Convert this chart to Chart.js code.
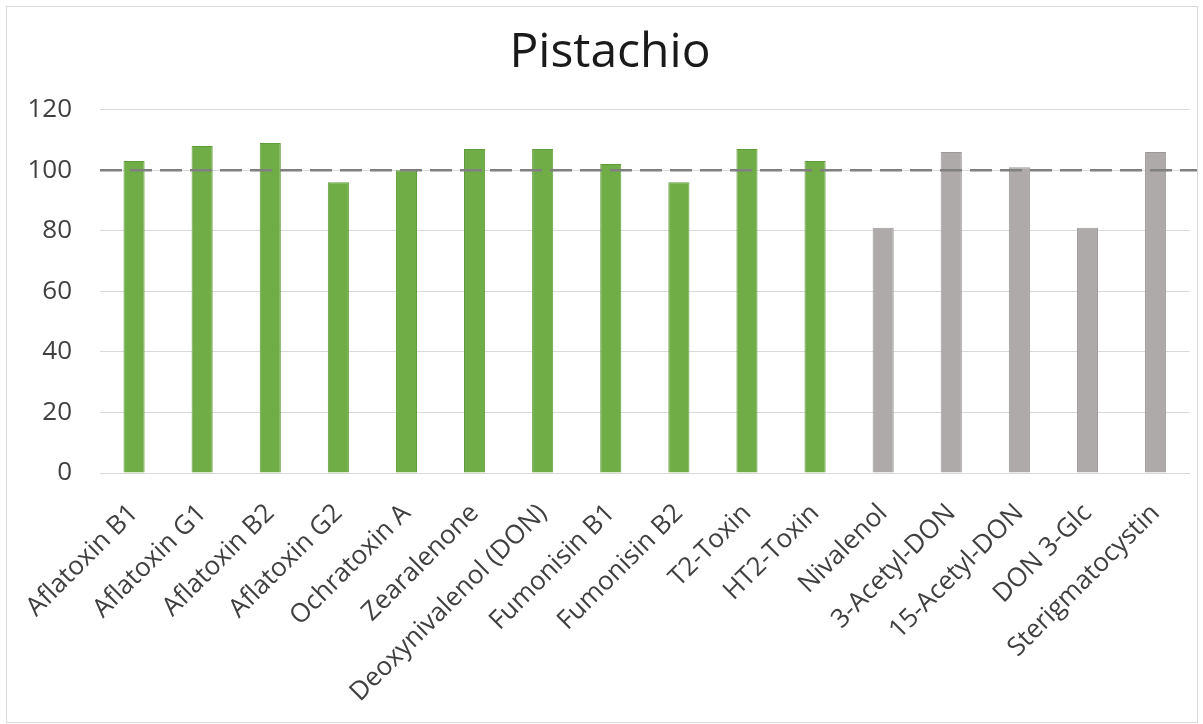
<!DOCTYPE html>
<html>
<head>
<meta charset="utf-8">
<title>Pistachio</title>
<script src="https://cdn.jsdelivr.net/npm/chart.js@4.4.1/dist/chart.umd.min.js"></script>
<style>
  html, body { margin: 0; padding: 0; background: #fff; }
  #wrap { position: relative; width: 1203px; height: 724px; }
  #frame {
    position: absolute; left: 6px; top: 6px; width: 1192px; height: 717px;
    border: 1px solid #d9d9d9; box-sizing: border-box; pointer-events: none;
  }
</style>
</head>
<body>
<div id="wrap">
  <canvas id="chart" width="1203" height="724"></canvas>
  <div id="frame"></div>
</div>
<script>
// ---- data ----
const chartTitle = "Pistachio";
const categories = [
  "Aflatoxin B1", "Aflatoxin G1", "Aflatoxin B2", "Aflatoxin G2", "Ochratoxin A",
  "Zearalenone", "Deoxynivalenol (DON)", "Fumonisin B1", "Fumonisin B2", "T2-Toxin",
  "HT2-Toxin", "Nivalenol", "3-Acetyl-DON", "15-Acetyl-DON", "DON 3-Glc", "Sterigmatocystin"
];
const recovery = [103, 108, 109, 96, 100, 107, 107, 102, 96, 107, 103, 81, 106, 101, 81, 106];
// true = green group, false = grey group
const mainGroup = [true, true, true, true, true, true, true, true, true, true, true,
                   false, false, false, false, false];
const yTicks = [0, 20, 40, 60, 80, 100, 120];
const targetLine = [100];

const green = "#70ad47", greenEdge = "#5e9c38";
const grey = "#aeaaaa", greyEdge = "#9c9898";

// dashed reference line at 100
const refLinePlugin = {
  id: "refLine",
  afterDatasetsDraw(chart) {
    const { ctx, chartArea, scales } = chart;
    targetLine.forEach(v => {
      const y = scales.y.getPixelForValue(v);
      ctx.save();
      ctx.strokeStyle = "#808080";
      ctx.lineWidth = 2.5;
      ctx.setLineDash([22, 8]);
      ctx.beginPath();
      ctx.moveTo(chartArea.left, y);
      ctx.lineTo(chart.width - 6, y);
      ctx.stroke();
      ctx.restore();
    });
  }
};

new Chart(document.getElementById("chart"), {
  type: "bar",
  data: {
    labels: categories,
    datasets: [{
      data: recovery,
      backgroundColor: mainGroup.map(g => g ? green : grey),
      borderColor: mainGroup.map(g => g ? greenEdge : greyEdge),
      borderWidth: 1,
      barPercentage: 0.31,
      categoryPercentage: 1
    }]
  },
  options: {
    responsive: false,
    animation: false,
    layout: { padding: { left: 28, right: 11, top: 0, bottom: 0 } },
    plugins: {
      legend: { display: false },
      tooltip: { enabled: false },
      title: {
        display: true,
        text: chartTitle,
        color: "#1a1a1a",
        font: { family: "'Open Sans', sans-serif", size: 48, weight: "normal" },
        padding: { top: 25, bottom: 27 }
      }
    },
    scales: {
      x: {
        grid: { display: false, drawTicks: false },
        border: { display: true, color: "#d9d9d9", width: 1 },
        ticks: {
          autoSkip: false,
          minRotation: 45,
          maxRotation: 45,
          padding: 25,
          color: "#404040",
          font: { family: "'Open Sans', sans-serif", size: 26 }
        },
        afterFit(scale) { scale.height = 251; }
      },
      y: {
        min: 0,
        max: 120,
        afterBuildTicks(scale) { scale.ticks = yTicks.map(v => ({ value: v })); },
        grid: { color: "#d9d9d9", lineWidth: 1, drawTicks: false },
        border: { display: false },
        ticks: {
          padding: 28,
          color: "#404040",
          font: { family: "'Open Sans', sans-serif", size: 26 }
        },
        afterFit(scale) { scale.width = 72; }
      }
    }
  },
  plugins: [refLinePlugin]
});
</script>
</body>
</html>
